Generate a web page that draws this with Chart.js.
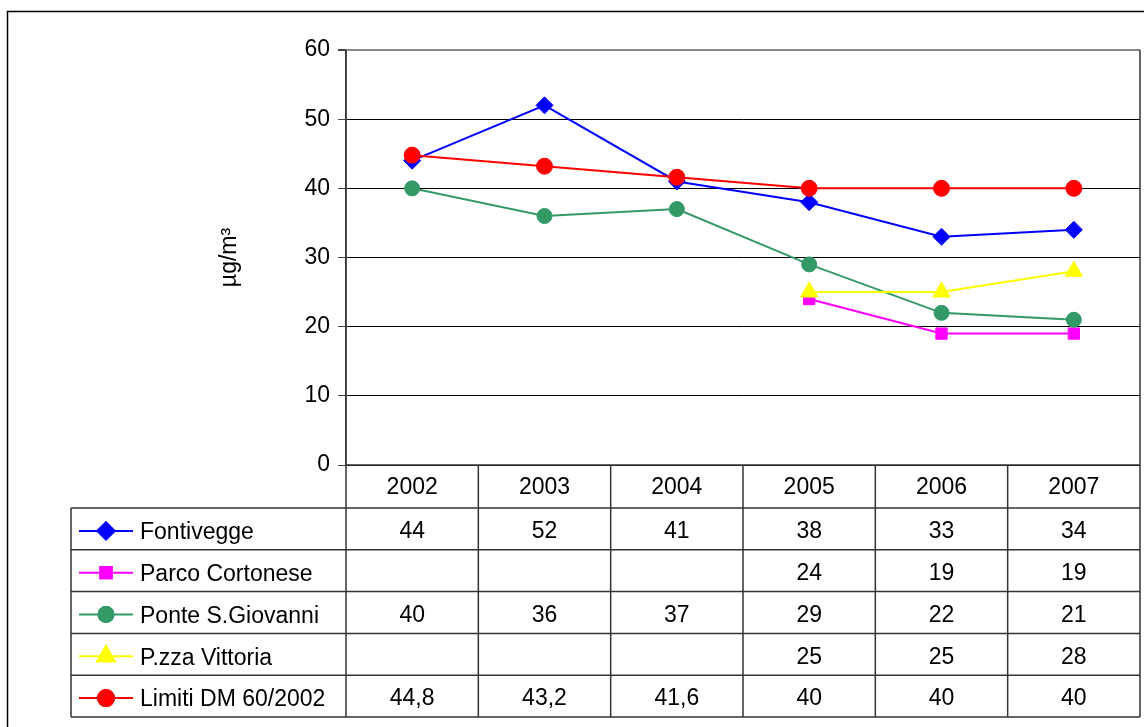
<!DOCTYPE html>
<html>
<head>
<meta charset="utf-8">
<script src="https://cdn.jsdelivr.net/npm/chart.js@4/dist/chart.umd.min.js"></script>
<style>
  body { margin: 0; background: #fff; }
  #wrap { width: 1144px; height: 727px; position: relative; }
</style>
</head>
<body>
<div id="wrap"><canvas id="chart" width="1144" height="727"></canvas></div>
<script>
// anni e valori (µg/m3)
const years = ['2002', '2003', '2004', '2005', '2006', '2007'];
const fontivegge = [44, 52, 41, 38, 33, 34];
const parcoCortonese = [null, null, null, 24, 19, 19];
const ponteSGiovanni = [40, 36, 37, 29, 22, 21];
const pzzaVittoria = [null, null, null, 25, 25, 28];
const limiti = [44.8, 43.2, 41.6, 40, 40, 40];
const yTicks = [0, 10, 20, 30, 40, 50, 60];

const FONT = 'Arial, "Liberation Sans", sans-serif';

const series = [
  { label: 'Fontivegge', data: fontivegge, color: '#0000FF', style: 'rectRot', r: 8.5 },
  { label: 'Parco Cortonese', data: parcoCortonese, color: '#FF00FF', style: 'rect', r: 8 },
  { label: 'Ponte S.Giovanni', data: ponteSGiovanni, color: '#339966', style: 'circle', r: 7.5 },
  { label: 'P.zza Vittoria', data: pzzaVittoria, color: '#FFFF00', style: 'triangle', r: 10 },
  { label: 'Limiti DM 60/2002', data: limiti, color: '#FF0000', style: 'circle', r: 8 }
];

function fmt(v) {
  if (v === null || v === undefined) return '';
  return String(v).replace('.', ',');
}

// tabella dati sotto il grafico (come in Excel)
const dataTable = {
  id: 'dataTable',
  afterDraw(chart) {
    const ctx = chart.ctx;
    const a = chart.chartArea;
    const x = chart.scales.x;
    const centers = years.map((_, i) => x.getPixelForValue(i));
    const step = centers[1] - centers[0];
    const edges = [a.left].concat(centers.slice(0, -1).map(c => c + step / 2), [a.right]);
    const headTop = a.bottom;
    const headBottom = a.bottom + 43;
    const rowH = 41.8;
    const tableLeft = 71;
    const tableBottom = headBottom + rowH * series.length;

    ctx.save();
    ctx.strokeStyle = '#333';
    ctx.lineWidth = 1.5;

    // linee orizzontali
    ctx.beginPath();
    ctx.moveTo(a.left, headTop);
    ctx.lineTo(a.right, headTop);
    for (let r = 0; r <= series.length; r++) {
      const y = headBottom + r * rowH;
      ctx.moveTo(tableLeft, y);
      ctx.lineTo(a.right, y);
    }
    // linee verticali
    edges.forEach((ex, i) => {
      const top = (i === 0 || i === edges.length - 1) ? a.top : headTop;
      ctx.moveTo(ex, top);
      ctx.lineTo(ex, tableBottom);
    });
    ctx.moveTo(tableLeft, headBottom);
    ctx.lineTo(tableLeft, tableBottom);
    ctx.stroke();

    // intestazione anni
    ctx.fillStyle = '#000';
    ctx.font = '23px ' + FONT;
    ctx.textAlign = 'center';
    ctx.textBaseline = 'middle';
    years.forEach((y, i) => ctx.fillText(y, centers[i], (headTop + headBottom) / 2 + 1));

    // righe
    series.forEach((s, r) => {
      const cy = headBottom + r * rowH + rowH / 2 + 2;
      ctx.strokeStyle = s.color;
      ctx.lineWidth = 2;
      ctx.beginPath();
      ctx.moveTo(79, cy);
      ctx.lineTo(133, cy);
      ctx.stroke();
      Chart.helpers.drawPoint(ctx, {
        pointStyle: s.style, radius: s.r, rotation: 0, borderWidth: 1
      }, 106, cy);
      ctx.fillStyle = s.color;
      ctx.strokeStyle = s.color;
      ctx.fill();
      ctx.stroke();

      ctx.fillStyle = '#000';
      ctx.font = '23px ' + FONT;
      ctx.textAlign = 'left';
      ctx.fillText(s.label, 140, cy + 2);
      ctx.textAlign = 'center';
      s.data.forEach((v, i) => ctx.fillText(fmt(v), centers[i], cy + 1));
    });

    // cornice esterna
    ctx.strokeStyle = '#000';
    ctx.lineWidth = 1.5;
    ctx.strokeRect(7.5, 11.5, 1200, 800);
    ctx.restore();
  }
};

new Chart(document.getElementById('chart'), {
  type: 'line',
  data: {
    labels: years,
    datasets: series.map((s, i) => ({
      label: s.label,
      data: s.data,
      borderColor: s.color,
      backgroundColor: s.color,
      borderWidth: 2,
      pointStyle: s.style,
      pointRadius: s.r,
      pointBorderWidth: 1,
      tension: 0,
      spanGaps: false,
      order: series.length - i
    }))
  },
  options: {
    responsive: false,
    animation: false,
    layout: { autoPadding: false, padding: { left: 212, top: 50, right: 4, bottom: 262 } },
    plugins: { legend: { display: false }, tooltip: { enabled: false } },
    scales: {
      x: { display: false, offset: true },
      y: {
        min: 0,
        max: 60,
        afterBuildTicks: scale => { scale.ticks = yTicks.map(v => ({ value: v })); },
        afterFit: scale => { scale.width = 134; },
        border: { color: '#444', width: 1.5 },
        grid: {
          color: ctx => ctx.tick.value === 60 ? '#888' : '#000',
          lineWidth: ctx => ctx.tick.value === 60 ? 2 : 1,
          tickColor: '#444',
          tickLength: 8
        },
        ticks: { color: '#000', font: { family: FONT, size: 23 }, padding: 8 },
        title: {
          display: true,
          text: 'µg/m³',
          color: '#000',
          font: { family: FONT, size: 23 }
        }
      }
    }
  },
  plugins: [dataTable]
});
</script>
</body>
</html>
